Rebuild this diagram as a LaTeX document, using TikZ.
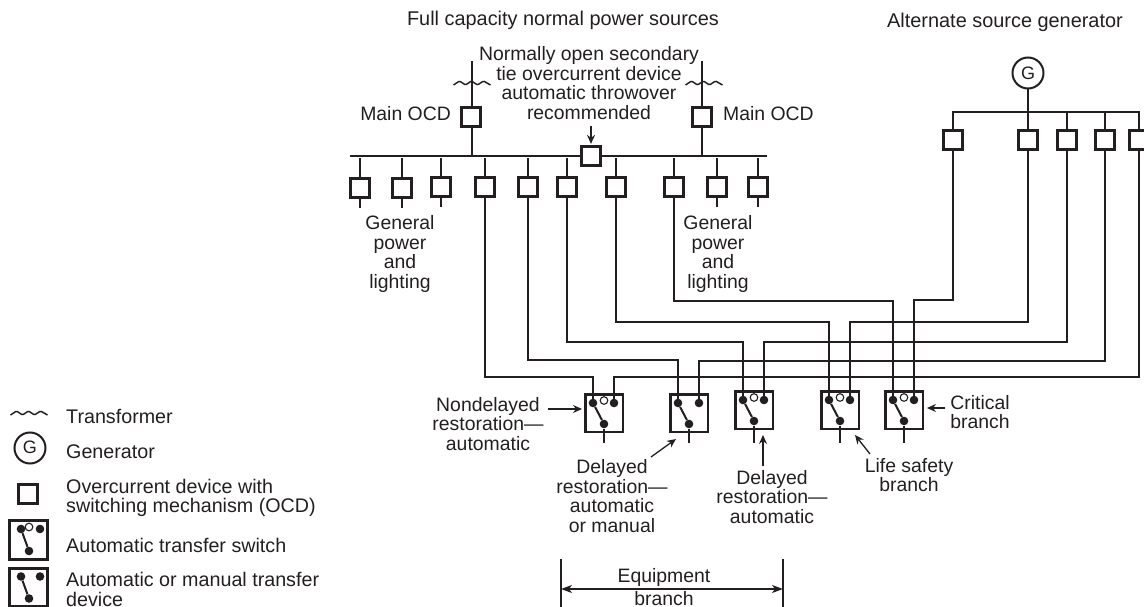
\documentclass[tikz,border=0pt]{standalone}
\usepackage{fontspec}
\setmainfont{Liberation Sans}
\usepackage{tikz}
\usetikzlibrary{calc,arrows.meta,positioning}
\definecolor{ink}{HTML}{231F20}
\tikzset{
    wire/.style={draw=ink,line width=1.5pt},
    ocd/.style={draw=ink,fill=white,line width=2.7pt,inner sep=0pt,minimum size=19.5pt},
    xfer/.style={draw=ink,fill=white,line width=2.7pt,inner sep=0pt,minimum size=37.7pt},
    contact/.style={circle,fill=ink,inner sep=0pt,minimum size=8.6pt},
    opencontact/.style={circle,draw=ink,fill=white,line width=1.1pt,inner sep=0pt,minimum size=7.6pt},
    gencirc/.style={circle,draw=ink,fill=white,line width=2pt,inner sep=0pt,minimum size=31pt,font=\fontsize{18}{18}\selectfont,text=ink},
    blade/.style={draw=ink,line width=2pt},
    lbl/.style={font=\fontsize{19.4}{19.5}\selectfont,align=center,text=ink,inner sep=0pt},
    ttl/.style={lbl,font=\fontsize{19.9}{19.9}\selectfont},
    keytxt/.style={lbl,anchor=west,align=left,font=\fontsize{19.7}{19.5}\selectfont},
    note/.style={draw=ink,line width=1.3pt,-{Stealth[length=9pt,width=8pt,inset=3pt]}},
    span/.style={draw=ink,line width=1.3pt,{Stealth[length=11pt,width=8pt,inset=3pt]}-{Stealth[length=11pt,width=8pt,inset=3pt]}},
    xfmr/.pic={\draw[wire,rounded corners=1pt] (-18.5,2)--(-12.5,-2)--(-6.5,2)--(-0.5,-2)--(5.5,2)--(11.5,-2)--(18.5,2);}
}
\begin{document}
\begin{tikzpicture}[x=1pt,y=-1pt]
    \path[use as bounding box,clip] (0,0) rectangle (1144,607);

    \coordinate (feedl) at (472,61);
    \coordinate (feedr) at (702,61);
    \coordinate (busl) at (350,156);
    \coordinate (busr) at (767,156);
    \coordinate (busu) at (0,158);
    \coordinate (altbus) at (1028,112);

    \draw[wire] (busl) -- (busr);
    \node[ocd] (mainl) at (471,117) {};
    \node[ocd] (mainr) at (702,117) {};
    \node[ocd] (tie) at (591,156) {};
    \draw[wire] (feedl) -- (feedl |- mainl.north);
    \draw[wire] (feedr) -- (feedr |- mainr.north);
    \draw[wire] (feedl |- mainl.south) -- (feedl |- busl);
    \draw[wire] (feedr |- mainr.south) -- (feedr |- busl);
    \pic at (472,83) {xfmr};
    \pic at (704,83) {xfmr};

    \foreach \nm/\cx/\cy in {na/360/188,nb/402/188,nc/441/187,nd/485/187,ne/528/187,nf/567/187,ng/616/187,nh/674/187,ni/717/187,nj/758/187} {
        \node[ocd] (\nm) at (\cx,\cy) {};
        \draw[wire] (\nm.north) -- (\nm |- busu);
    }
    \foreach \nm in {na,nb,nc,ni,nj} {
        \draw[wire] (\nm.south) -- ++(0,9);
    }

    \node[gencirc] (gen) at (1028,73) {G};
    \foreach \nm/\cx in {ma/953,mb/1028,mc/1067,md/1105,me/1139} {
        \node[ocd] (\nm) at (\cx,140) {};
    }
    \draw[wire] (gen) -- (mb.north);
    \draw[wire] (ma.north) |- (altbus) -| (me.north);
    \draw[wire] (mc.north) -- (mc |- altbus);
    \draw[wire] (md.north) -- (md |- altbus);

    \foreach \nm/\cx/\cy in {swa/604/413,swb/689/413,swc/754/410,swd/840/410,swe/904/410} {
        \node[xfer] (\nm) at (\cx,\cy) {};
        \node[contact] (\nm-l) at (\cx-11,\cy-10) {};
        \node[contact] (\nm-r) at (\cx+10,\cy-10) {};
        \node[contact] (\nm-b) at (\cx,\cy+11) {};
        \coordinate (\nm-o) at (\cx,443);
        \draw[blade] (\nm-l) -- (\nm-b);
        \draw[blade] (\nm-b) -- (\nm-o);
    }
    \foreach \nm in {swa,swc,swd,swe} {
        \node[opencontact] (\nm-c) at ($(\nm.center)+(0,-12.5)$) {};
    }

    \foreach \from/\to/\lev in {nd/swa-l/377,ne/swb-l/360,nf/swc-l/342,ng/swd-l/322,nh/swe-l/301,ma/swe-r/300,mb/swd-r/322,mc/swc-r/342,md/swb-r/361,me/swa-r/377} {
        \draw[wire] (\from.south) -- (\from.south |- 0,\lev) -| (\to.north);
    }

    \node[ttl] (srcnorm) at (563,20) {Full capacity normal power sources};
    \node[ttl] (srcalt) at (1005,22) {Alternate source generator};
    \node[lbl] (tietxt) at (589,83) {Normally open secondary\\tie overcurrent device\\automatic throwover\\recommended};
    \node[lbl,anchor=east] (ocdl) at (451,114) {Main OCD};
    \node[lbl,anchor=west] (ocdr) at (723,114) {Main OCD};
    \node[lbl] (genl) at (400,254) {General\\power\\and\\lighting};
    \node[lbl] (genr) at (718,254) {General\\power\\and\\lighting};
    \node[lbl] (nondly) at (488,424) {Nondelayed\\restoration---\\automatic};
    \node[lbl] (dlyman) at (612,496) {Delayed\\restoration---\\automatic\\or manual};
    \node[lbl] (dlyaut) at (772,497) {Delayed\\restoration---\\automatic};
    \node[lbl] (lifesf) at (909,475) {Life safety\\branch};
    \node[lbl] (critbr) at (980,412) {Critical\\branch};

    \coordinate (tiea) at (591,126);
    \coordinate (nona) at (548,409);
    \coordinate (nonb) at (582,409);
    \coordinate (dmna) at (651,457);
    \coordinate (dmnb) at (676,439);
    \coordinate (daua) at (763,466);
    \coordinate (daub) at (763,435);
    \coordinate (lifa) at (870,454);
    \coordinate (lifb) at (855,435);
    \coordinate (cria) at (945,408);
    \coordinate (crib) at (927,408);
    \draw[note,shorten >=1pt] (tiea) -- (tie.north);
    \draw[note] (nona) -- (nonb);
    \draw[note] (dmna) -- (dmnb);
    \draw[note] (daua) -- (daub);
    \draw[note] (lifa) -- (lifb);
    \draw[note] (cria) -- (crib);

    \coordinate (eqa) at (561,559);
    \coordinate (eqb) at (783,559);
    \draw[wire] (eqa) -- ++(0,50);
    \draw[wire] (eqb) -- ++(0,50);
    \draw[span] (561,589) -- (783,589);
    \node[lbl] (eqtop) at (664,577) {Equipment};
    \node[lbl] (eqbot) at (664,598.5) {branch};

    \pic at (29,413) {xfmr};
    \node[gencirc] (lggen) at (30,448) {\raisebox{2.5pt}{G}};
    \node[ocd] (lgocd) at (28,494) {};
    \foreach \nm/\cy in {lga/540,lgb/587.5} {
        \node[xfer,minimum size=38.5pt] (\nm) at (28.5,\cy) {};
        \node[contact] (\nm-l) at (21,\cy-11) {};
        \node[contact] (\nm-r) at (40,\cy-11) {};
        \node[contact] (\nm-b) at (29,\cy+11) {};
        \draw[blade] (\nm-l) -- (\nm-b);
    }
    \node[opencontact] (lga-c) at (29,527) {};

    \node[keytxt] (txfmr) at (66,416) {Transformer};
    \node[keytxt] (tgen) at (66,452) {Generator};
    \node[keytxt] (tocd) at (66,498) {Overcurrent device with\\switching mechanism (OCD)};
    \node[keytxt] (tats) at (66,545) {Automatic transfer switch};
    \node[keytxt] (tamt) at (66,589.5) {Automatic or manual transfer\\device};
\end{tikzpicture}
\end{document}
